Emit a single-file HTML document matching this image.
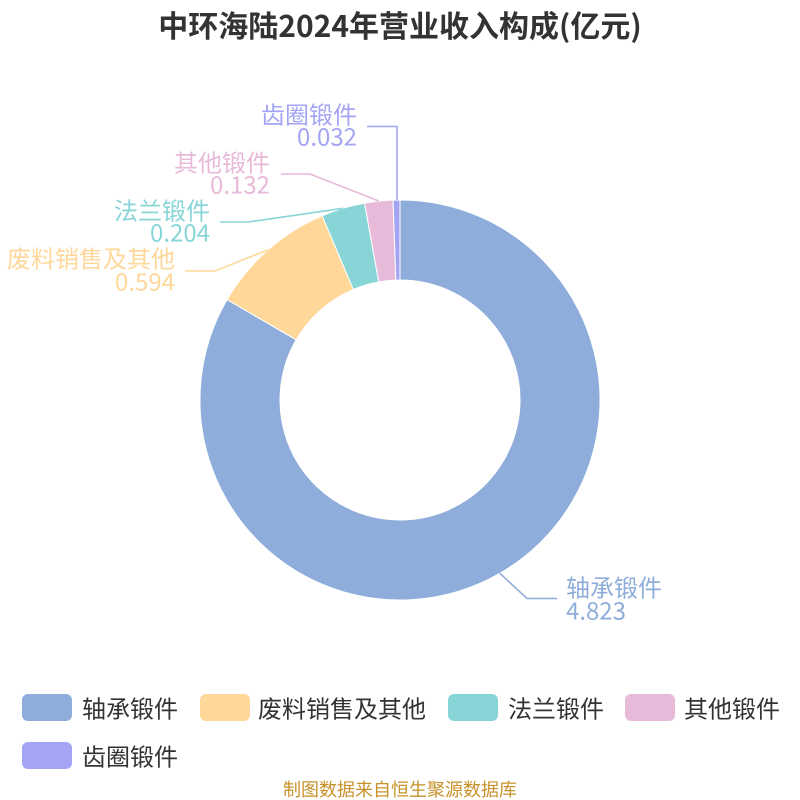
<!DOCTYPE html>
<html>
<head>
<meta charset="utf-8">
<style>
html,body{margin:0;padding:0;background:#fff;}
svg{display:block;}
text{font-family:"Liberation Sans","Noto Sans CJK SC",sans-serif;}
.cjk{font-family:"Noto Sans CJK SC","Liberation Sans",sans-serif;}
</style>
</head>
<body>
<svg width="800" height="800" viewBox="0 0 800 800" xmlns="http://www.w3.org/2000/svg">
  <rect width="800" height="800" fill="#fff"/>
  <!-- Title -->
  <text class="cjk" x="400" y="24" text-anchor="middle" dominant-baseline="central" font-size="30" font-weight="bold" fill="#333">中环海陆2024年营业收入构成(亿元)</text>

  <!-- Donut -->
  <g stroke="#fff" stroke-width="1" stroke-linejoin="round">
    <path d="M 400 200 A 200 200 0 1 1 227.03 299.59 L 296.22 339.76 A 120 120 0 1 0 400 280 Z" fill="#8FADDA"/>
    <path d="M 227.03 299.59 A 200 200 0 0 1 322.17 215.76 L 353.30 289.46 A 120 120 0 0 0 296.22 339.76 Z" fill="#FFD899"/>
    <path d="M 322.17 215.76 A 200 200 0 0 1 364.56 203.16 L 378.74 281.90 A 120 120 0 0 0 353.30 289.46 Z" fill="#88D5D8"/>
    <path d="M 364.56 203.16 A 200 200 0 0 1 393.05 200.12 L 395.83 280.07 A 120 120 0 0 0 378.74 281.90 Z" fill="#E7BAD9"/>
    <path d="M 393.05 200.12 A 200 200 0 0 1 400 200 L 400 280 A 120 120 0 0 0 395.83 280.07 Z" fill="#A3A4F4"/>
  </g>

  <!-- Label lines -->
  <g fill="none" stroke-width="1.6">
    <polyline points="397,200 397,126.5 367,126.5" stroke="#A3A4F4"/>
    <polyline points="378.7,201 310,174 281,174" stroke="#E7BAD9"/>
    <polyline points="343,208.3 248,222 220,222" stroke="#88D5D8"/>
    <polyline points="267.8,249.9 215,271 185,271" stroke="#FFD899"/>
    <polyline points="499.8,573.3 527,598.5 557,598.5" stroke="#8FADDA"/>
  </g>

  <!-- Labels -->
  <g font-size="24" dominant-baseline="central">
    <text class="cjk" x="357" y="113" text-anchor="end" fill="#A3A4F4">齿圈锻件</text>
    <text class="cjk" x="357" y="135" text-anchor="end" fill="#A3A4F4">0.032</text>

    <text class="cjk" x="270" y="161" text-anchor="end" fill="#E7BAD9">其他锻件</text>
    <text class="cjk" x="270" y="183" text-anchor="end" fill="#E7BAD9">0.132</text>

    <text class="cjk" x="210" y="209" text-anchor="end" fill="#88D5D8">法兰锻件</text>
    <text class="cjk" x="210" y="231" text-anchor="end" fill="#88D5D8">0.204</text>

    <text class="cjk" x="175" y="257" text-anchor="end" fill="#FFD899">废料销售及其他</text>
    <text class="cjk" x="175" y="280" text-anchor="end" fill="#FFD899">0.594</text>

    <text class="cjk" x="566" y="586" text-anchor="start" fill="#8FADDA">轴承锻件</text>
    <text class="cjk" x="566" y="609" text-anchor="start" fill="#8FADDA">4.823</text>
  </g>

  <!-- Legend -->
  <g>
    <rect x="22" y="694" width="50" height="27" rx="6" fill="#8FADDA"/>
    <rect x="200" y="694" width="50" height="27" rx="6" fill="#FFD899"/>
    <rect x="448" y="694" width="50" height="27" rx="6" fill="#88D5D8"/>
    <rect x="625" y="694" width="50" height="27" rx="6" fill="#E7BAD9"/>
    <rect x="22" y="742" width="50" height="27" rx="6" fill="#A3A4F4"/>
  </g>
  <g class="cjk" font-size="24" fill="#333" dominant-baseline="central">
    <text class="cjk" x="82" y="707">轴承锻件</text>
    <text class="cjk" x="258" y="707">废料销售及其他</text>
    <text class="cjk" x="508" y="707">法兰锻件</text>
    <text class="cjk" x="684" y="707">其他锻件</text>
    <text class="cjk" x="82" y="755">齿圈锻件</text>
  </g>

  <!-- Footer -->
  <text class="cjk" x="400" y="789" text-anchor="middle" dominant-baseline="central" font-size="18" fill="#C8922A">制图数据来自恒生聚源数据库</text>
</svg>
</body>
</html>
